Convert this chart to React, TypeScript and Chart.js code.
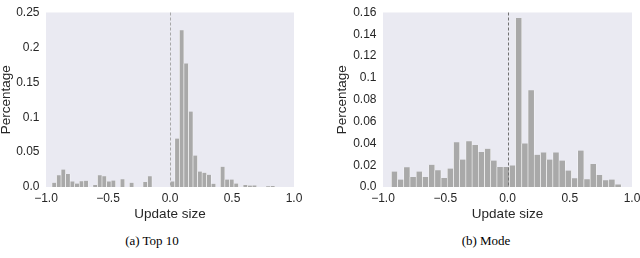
import React, { useEffect, useRef } from "react";
import { Chart, registerables } from "chart.js";

Chart.register(...registerables);

// ---------- data ----------
const xTickValues = [-1, -0.5, 0, 0.5, 1];
const xTickLabels = ["\u22121.0", "\u22120.5", "0.0", "0.5", "1.0"];

// (a) Top 10 histogram: bin edges start, bin width, bin heights
const topBinStart = -0.952;
const topBinWidth = 0.0367;
const topValues = [
  0.006, 0.017, 0.025, 0.0185, 0.008, 0.005, 0.0083, 0.0088, 0, 0.003,
  0.017, 0.0153, 0.008, 0.0093, 0, 0.011, 0, 0.006, 0, 0,
  0.007, 0.0153, 0, 0, 0, 0, 0.008, 0.0694, 0.2245, 0.177,
  0.108, 0.045, 0.0222, 0.0204, 0.0176, 0.0046, 0, 0.029, 0.0107, 0.0107,
  0.005, 0, 0.003, 0.002, 0.0023, 0, 0, 0.001, 0.0014,
];
const topYTicks = [0, 0.05, 0.1, 0.15, 0.2, 0.25];
const topYTickLabels = ["0.0", "0.05", "0.1", "0.15", "0.2", "0.25"];

// (b) Mode histogram
const modeBinStart = -0.933;
const modeBinWidth = 0.0499;
const modeValues = [
  0.0142, 0.0068, 0.018, 0.0092, 0.0142, 0.0092, 0.0204, 0.0154, 0.0083, 0.0169,
  0.041, 0.0252, 0.042, 0.0385, 0.032, 0.035, 0.0243, 0.0184, 0.0184, 0.0198,
  0.155, 0.04, 0.0886, 0.0296, 0.0317, 0.0252, 0.0317, 0.0243, 0.0151, 0.008,
  0.0335, 0.0071, 0.021, 0.011, 0.0062, 0.0068, 0.0024,
];
const modeYTicks = [0, 0.02, 0.04, 0.06, 0.08, 0.1, 0.12, 0.14, 0.16];
const modeYTickLabels = ["0.0", "0.02", "0.04", "0.06", "0.08", "0.1", "0.12", "0.14", "0.16"];

const xTitle = "Update size";
const yTitle = "Percentage";
const captions = ["(a) Top 10", "(b) Mode"];

// ---------- styles ----------
const FONT = "'Liberation Sans', Arial, sans-serif";
const TEXT = "#262626";
const BAR = "#a9a9a9";
const PLOT_BG = "#eaeaf2";

type PanelSpec = {
  binStart: number;
  binWidth: number;
  values: number[];
  yMax: number;
  yTicks: number[];
  yTickLabels: string[];
  yAxisWidth: number;
  padRight: number;
  zeroColor: string;
};

const bgPlugin = {
  id: "plotBg",
  beforeDatasetsDraw(chart: any) {
    const { ctx, chartArea } = chart;
    ctx.save();
    ctx.fillStyle = PLOT_BG;
    ctx.fillRect(chartArea.left, chartArea.top, chartArea.right - chartArea.left, chartArea.bottom - chartArea.top);
    ctx.restore();
  },
};

function makeZeroLine(color: string) {
  return {
    id: "zeroLine",
    afterDatasetsDraw(chart: any) {
      const { ctx, chartArea, scales } = chart;
      const x = Math.round(scales.x.getPixelForValue(0)) + 0.5;
      ctx.save();
      ctx.strokeStyle = color;
      ctx.lineWidth = 1;
      ctx.setLineDash([3, 2]);
      ctx.beginPath();
      ctx.moveTo(x, chartArea.top);
      ctx.lineTo(x, chartArea.bottom);
      ctx.stroke();
      ctx.restore();
    },
  };
}

function makeConfig(p: PanelSpec): any {
  const data = p.values.map((v, i) => ({ x: p.binStart + (i + 0.5) * p.binWidth, y: v }));
  return {
    type: "bar",
    data: {
      datasets: [
        {
          data,
          backgroundColor: BAR,
          borderColor: "#ffffff",
          borderWidth: { left: 0.6, right: 0.6, top: 0, bottom: 0 },
          borderSkipped: false,
          barPercentage: 1,
          categoryPercentage: 1,
          grouped: false,
        },
      ],
    },
    options: {
      animation: false,
      responsive: false,
      maintainAspectRatio: false,
      events: [],
      layout: { padding: { top: 7, right: p.padRight, bottom: 0, left: 0 } },
      plugins: { legend: { display: false }, tooltip: { enabled: false } },
      scales: {
        x: {
          type: "linear",
          min: -1,
          max: 1,
          offset: false,
          grid: { display: false, drawTicks: false },
          border: { display: false },
          afterBuildTicks: (s: any) => {
            s.ticks = xTickValues.map((v) => ({ value: v }));
          },
          afterFit: (s: any) => {
            s.height = 43;
          },
          ticks: {
            autoSkip: false,
            maxRotation: 0,
            padding: 4,
            color: TEXT,
            font: { family: FONT, size: 12 },
            callback: (_v: any, i: number) => xTickLabels[i],
          },
          title: {
            display: true,
            text: xTitle,
            color: TEXT,
            font: { family: FONT, size: 13.5, lineHeight: 1.2 },
            padding: { top: 0, bottom: 8 },
          },
        },
        y: {
          type: "linear",
          min: 0,
          max: p.yMax,
          grid: { display: false, drawTicks: false },
          border: { display: false },
          afterBuildTicks: (s: any) => {
            s.ticks = p.yTicks.map((v) => ({ value: v }));
          },
          afterFit: (s: any) => {
            s.width = p.yAxisWidth;
          },
          ticks: {
            padding: 6.5,
            color: TEXT,
            font: { family: FONT, size: 12, lineHeight: 1 },
            callback: (_v: any, i: number) => p.yTickLabels[i],
          },
          title: {
            display: true,
            text: yTitle,
            color: TEXT,
            font: { family: FONT, size: 13.5, lineHeight: 1 },
            padding: 0,
          },
        },
      },
    },
    plugins: [bgPlugin, makeZeroLine(p.zeroColor)],
  };
}

function Panel({ spec, left, width }: { spec: PanelSpec; left: number; width: number }) {
  const ref = useRef<HTMLCanvasElement>(null);
  useEffect(() => {
    const chart = new Chart(ref.current as HTMLCanvasElement, makeConfig(spec));
    return () => chart.destroy();
  }, []);
  return (
    <canvas
      ref={ref}
      width={width}
      height={230}
      style={{ position: "absolute", left, top: 0, width, height: 230 }}
    />
  );
}

const topSpec: PanelSpec = {
  binStart: topBinStart,
  binWidth: topBinWidth,
  values: topValues,
  yMax: 0.25,
  yTicks: topYTicks,
  yTickLabels: topYTickLabels,
  yAxisWidth: 46,
  padRight: 26,
  zeroColor: "#a8a8a8",
};

const modeSpec: PanelSpec = {
  binStart: modeBinStart,
  binWidth: modeBinWidth,
  values: modeValues,
  yMax: 0.16,
  yTicks: modeYTicks,
  yTickLabels: modeYTickLabels,
  yAxisWidth: 47,
  padRight: 34,
  zeroColor: "#707070",
};

export default function App() {
  const capStyle = (cx: number): React.CSSProperties => ({
    position: "absolute",
    left: cx - 100,
    top: 233,
    width: 200,
    height: 16,
    lineHeight: "16px",
    textAlign: "center",
    fontFamily: "'Liberation Serif', 'Times New Roman', serif",
    fontSize: 13,
    color: "#000",
  });
  return (
    <div
      style={{
        position: "absolute",
        left: 0,
        top: 0,
        width: 640,
        height: 258,
        overflow: "hidden",
        background: "#fff",
      }}
    >
      <Panel spec={topSpec} left={0} width={320} />
      <Panel spec={modeSpec} left={336} width={330} />
      <div style={capStyle(152)}>{captions[0]}</div>
      <div style={capStyle(486)}>{captions[1]}</div>
    </div>
  );
}
